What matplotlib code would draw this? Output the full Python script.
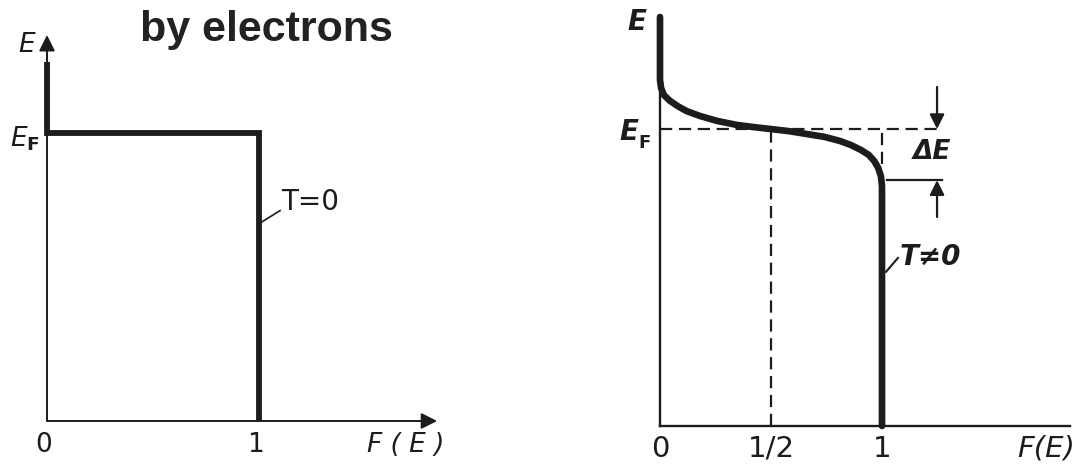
import matplotlib.pyplot as plt

plt.rcParams['font.family'] = ['DejaVu Sans']

INK = '#1c1c1c'

# T = 0: step occupancy, E in units of the axis height
step_F = [0, 0, 1, 1]
step_E = [0.93, 0.746, 0.746, 0]
E_F_cold = 0.746

# T != 0: occupancy
curve_F = [0, 0, 0.005, 0.018, 0.045, 0.08, 0.12, 0.18, 0.257, 0.347,
           0.42, 0.5, 0.58, 0.66, 0.74, 0.81, 0.86, 0.905, 0.94, 0.965,
           0.983, 0.995, 1.0, 1.0]
curve_E = [1.0, 0.846, 0.826, 0.809, 0.795, 0.782, 0.770, 0.758, 0.746,
           0.736, 0.731, 0.726, 0.721, 0.714, 0.707, 0.697, 0.687, 0.675,
           0.663, 0.648, 0.631, 0.611, 0.587, 0.0]
E_F_warm = 0.726
dE_low = 0.601

left_ticks = ['0', '1']
right_ticks = ['0', '1/2', '1']
right_tick_pos = [0, 0.5, 1]

fig = plt.figure(figsize=(10.77, 4.68), dpi=100)
fig.patch.set_facecolor('white')

# ---------- left: T = 0 ----------
ax1 = fig.add_axes([0, 0, 540 / 1077, 1])
ax1.set_xlim(-0.2217, 2.325)
ax1.set_ylim(-0.1218, 1.0907)
ax1.axis('off')

arrow = dict(arrowstyle='-|>', lw=1.4, color=INK, mutation_scale=24,
             shrinkA=0, shrinkB=0)
ax1.annotate('', xy=(0, 1.0), xytext=(0, 0), arrowprops=arrow)
ax1.annotate('', xy=(1.84, 0), xytext=(0, 0), arrowprops=arrow)
ax1.plot(step_F, step_E, color=INK, lw=4.2, solid_joinstyle='miter',
         solid_capstyle='butt')

ax1.plot([1.014, 1.099], [0.516, 0.545], color=INK, lw=1.2)
ax1.text(1.105, 0.567, 'T=0', fontsize=20, color=INK, va='center',
         ha='left')

ax1.text(-0.094, 0.974, 'E', fontsize=19, color=INK, ha='center',
         va='center', style='italic')
ax1.text(-0.104, E_F_cold - 0.015, r'$\mathit{E}_{\mathbf{F}}$', fontsize=19,
         color=INK, ha='center', va='center')
for pos, lab in zip([0, 1], left_ticks):
    ax1.text(pos - 0.015, -0.062, lab, fontsize=19, color=INK, ha='center',
             va='center')
ax1.text(1.69, -0.062, 'F ( E )', fontsize=19, color=INK, ha='center',
         va='center', style='italic')

fig.text(266 / 1077, 1 - 30 / 468, 'by electrons', fontsize=31,
         fontweight='bold', color='#222222', ha='center', va='center',
         family='Liberation Sans')

# ---------- right: T != 0 ----------
ax2 = fig.add_axes([540 / 1077, 0, 537 / 1077, 1])
ax2.set_xlim(-0.5405, 1.8784)
ax2.set_ylim(-0.1027, 1.0416)
ax2.axis('off')

ax2.plot([0, 0], [0, 1.0], color=INK, lw=1.7)
ax2.plot([0, 1.847], [0, 0], color=INK, lw=1.7)
ax2.plot(curve_F, curve_E, color=INK, lw=4.8, solid_capstyle='round',
         solid_joinstyle='round')

dash = dict(color=INK, lw=1.6, linestyle=(0, (5.5, 3)))
ax2.plot([0, 1.26], [E_F_warm, E_F_warm], **dash)
ax2.plot([0.5, 0.5], [0, E_F_warm], **dash)
ax2.plot([1.0, 1.0], [0.64, E_F_warm], **dash)

# energy spread marker
ax2.plot([1.022, 1.27], [dE_low, dE_low], color=INK, lw=1.6)
small = dict(arrowstyle='-|>', lw=1.6, color=INK, mutation_scale=22,
             shrinkA=0, shrinkB=0)
ax2.annotate('', xy=(1.248, E_F_warm), xytext=(1.248, 0.829),
             arrowprops=small)
ax2.annotate('', xy=(1.248, dE_low), xytext=(1.248, 0.511),
             arrowprops=small)
ax2.text(1.225, 0.670, 'ΔE', fontsize=19, color=INK, ha='center',
         va='center', style='italic', fontweight='bold')

ax2.plot([1.018, 1.072], [0.377, 0.411], color=INK, lw=1.5)
ax2.text(1.08, 0.413, 'T≠0', fontsize=20, color=INK, ha='left',
         va='center', style='italic', fontweight='bold')

ax2.text(-0.104, 0.988, 'E', fontsize=20, color=INK, ha='center',
         va='center', style='italic', fontweight='bold')
ax2.text(-0.095, E_F_warm - 0.008, 'E', fontsize=20, color=INK, ha='right',
         va='center', style='italic', fontweight='bold')
ax2.text(-0.097, E_F_warm - 0.035, 'F', fontsize=13, color=INK, ha='left',
         va='center', fontweight='bold')
for pos, lab in zip(right_tick_pos, right_ticks):
    ax2.text(pos, -0.056, lab, fontsize=21, color=INK, ha='center',
             va='center')
ax2.text(1.74, -0.056, 'F(E)', fontsize=21, color=INK, ha='center',
         va='center', style='italic')

fig.savefig('out.png', dpi=100, facecolor='white')
